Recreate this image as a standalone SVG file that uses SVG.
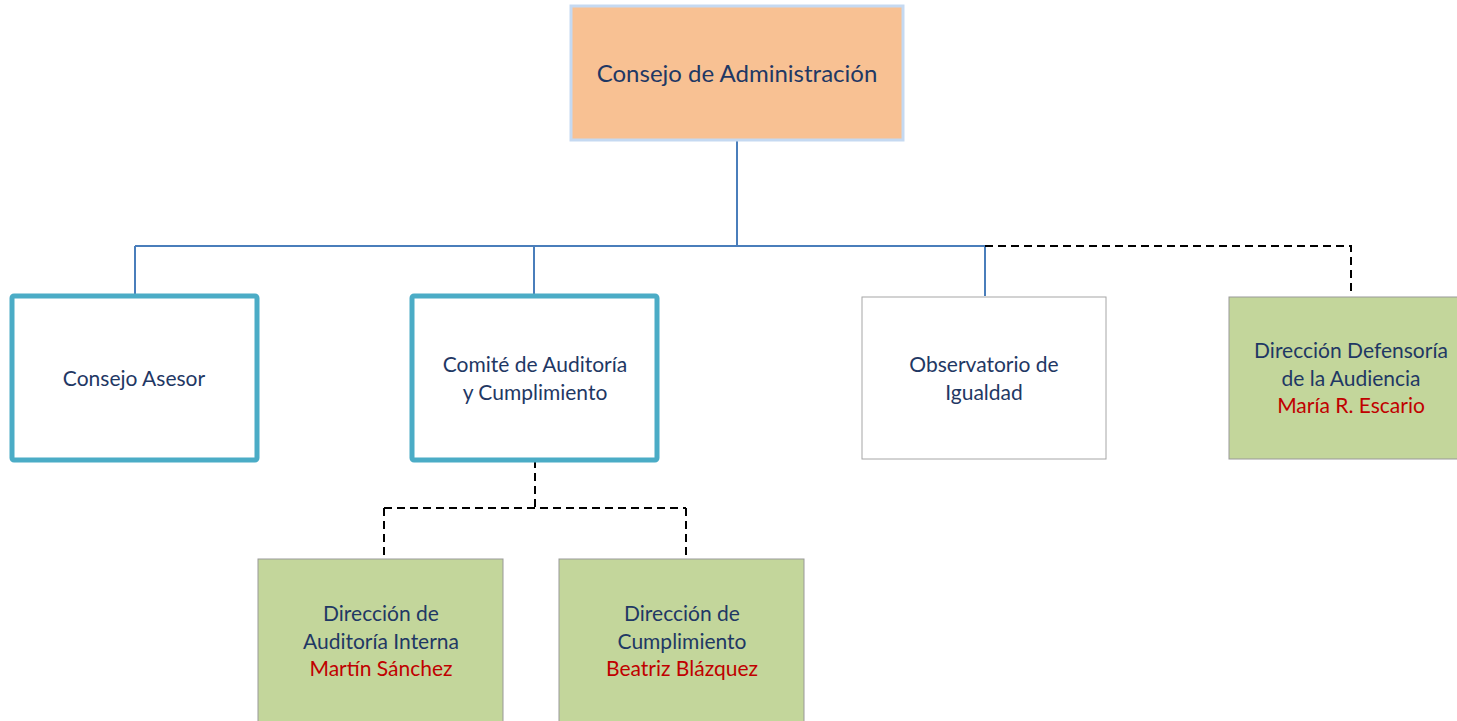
<svg xmlns="http://www.w3.org/2000/svg" width="1457" height="721" viewBox="0 0 1457 721">
<style>
  text { font-family: Lato, "Noto Sans", "Liberation Sans", sans-serif; font-size: 21px; fill: #1F3864; text-anchor: middle; }
  .red { fill: #C00000; }
  .solid { fill: none; stroke: #4A7EBB; stroke-width: 2; }
  .dash { fill: none; stroke: #000; stroke-width: 2; stroke-dasharray: 8 5; }
  .teal { fill: #fff; stroke: #4BACC6; stroke-width: 5; }
  .plain { fill: #fff; stroke: #A6A6A6; stroke-width: 1; }
  .green { fill: #C3D69B; stroke: #999; stroke-width: 1; }
</style>
<rect width="1457" height="721" fill="#fff"/>
<g id="connectors">
  <path class="solid" d="M737 140 V246 M135 246 H985 M135 246 V296 M534 246 V296 M985 246 V296"/>
  <path class="dash" d="M985 246 H1351 V296"/>
  <path class="dash" d="M535 460 V508 M384 508 H686 M384 508 V559 M686 508 V559"/>
</g>
<g id="consejo-administracion">
  <rect x="571" y="6" width="332" height="134" fill="#F8C193" stroke="#C5D9F1" stroke-width="3"/>
  <text x="737" y="82" style="font-size:24px">Consejo de Administración</text>
</g>
<g id="consejo-asesor">
  <rect class="teal" x="12" y="296" width="245" height="164" rx="2"/>
  <text x="134" y="386">Consejo Asesor</text>
</g>
<g id="comite-auditoria">
  <rect class="teal" x="412" y="296" width="245" height="164" rx="2"/>
  <text x="535" y="372">Comité de Auditoría</text>
  <text x="535" y="400">y Cumplimiento</text>
</g>
<g id="observatorio">
  <rect class="plain" x="862" y="297" width="244" height="162"/>
  <text x="984" y="372">Observatorio de</text>
  <text x="984" y="400">Igualdad</text>
</g>
<g id="defensoria">
  <rect class="green" x="1229" y="297" width="240" height="162"/>
  <text x="1351" y="358">Dirección Defensoría</text>
  <text x="1351" y="386">de la Audiencia</text>
  <text class="red" x="1351" y="413">María R. Escario</text>
</g>
<g id="auditoria-interna">
  <rect class="green" x="258" y="559" width="245" height="170"/>
  <text x="381" y="621">Dirección de</text>
  <text x="381" y="649">Auditoría Interna</text>
  <text class="red" x="381" y="676">Martín Sánchez</text>
</g>
<g id="cumplimiento">
  <rect class="green" x="559" y="559" width="245" height="170"/>
  <text x="682" y="621">Dirección de</text>
  <text x="682" y="649">Cumplimiento</text>
  <text class="red" x="682" y="676">Beatriz Blázquez</text>
</g>
</svg>
